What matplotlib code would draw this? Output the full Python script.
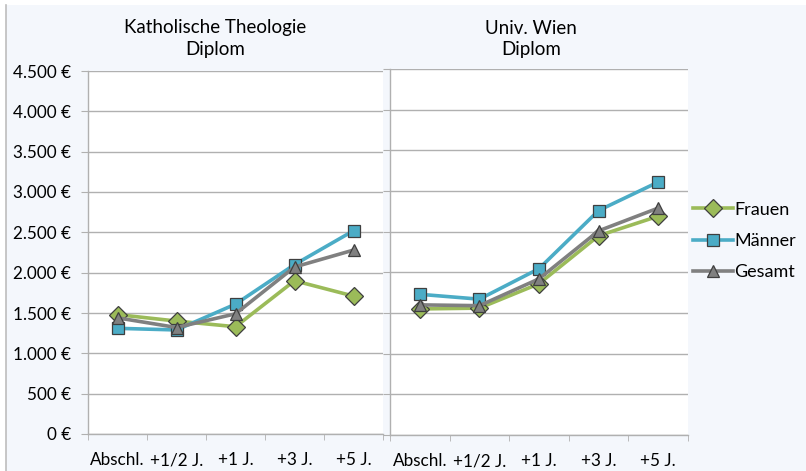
import matplotlib.pyplot as plt
from matplotlib.lines import Line2D
from matplotlib.patches import Rectangle
from matplotlib.ticker import FuncFormatter, FixedLocator

plt.rcParams['font.family'] = ['Lato', 'DejaVu Sans']

categories = ["Abschl.", "+1/2 J.", "+1 J.", "+3 J.", "+5 J."]
series_names = ["Frauen", "Männer", "Gesamt"]

# Katholische Theologie - Diplom
theo_frauen = [1480, 1400, 1330, 1900, 1710]
theo_maenner = [1310, 1290, 1610, 2100, 2520]
theo_gesamt = [1440, 1320, 1490, 2070, 2280]

# Univ. Wien - Diplom
wien_frauen = [1550, 1560, 1860, 2450, 2690]
wien_maenner = [1730, 1670, 2045, 2760, 3110]
wien_gesamt = [1600, 1590, 1920, 2510, 2790]

title_lines = [("Katholische Theologie", "Diplom"), ("Univ. Wien", "Diplom")]

colors = ["#9BBB59", "#4BACC6", "#808080"]
markers = ["D", "s", "^"]
msizes = [9, 9, 9]
EDGE = "#3F3F3F"
BG = "#F4F7FC"
GRID = "#B0B0B0"

W, H = 806, 471
fig = plt.figure(figsize=(W / 100, H / 100), dpi=100, facecolor="white")
fig.patches.append(Rectangle((6 / W, 0), 1, 1 - 5 / H, transform=fig.transFigure,
                             facecolor=BG, edgecolor="none", zorder=-5))
fig.lines.append(Line2D([6 / W, 6 / W], [0, 1 - 5 / H], transform=fig.transFigure,
                        color="#BDBDBD", lw=1.2))


def euro(v, pos):
    return "{:,.0f} €".format(v).replace(",", ".")


def draw_panel(rect, data, show_labels):
    ax = fig.add_axes(rect)
    ax.set_facecolor("white")
    x = range(len(categories))
    for vals, c, m, ms in zip(data, colors, markers, msizes):
        ax.plot(x, vals, color=c, lw=2.6, marker=m, markersize=ms,
                markerfacecolor=c, markeredgecolor=EDGE, markeredgewidth=0.9,
                zorder=3, clip_on=False)
    ax.set_xlim(-0.5, len(categories) - 0.5)
    ax.set_ylim(0, 4500)
    ax.set_yticks(range(0, 4501, 500))
    ax.yaxis.set_major_formatter(FuncFormatter(euro))
    ax.grid(axis="y", color=GRID, lw=1.0, zorder=0)
    ax.set_axisbelow(True)
    ax.set_xticks(list(x))
    ax.set_xticklabels(categories)
    ax.xaxis.set_minor_locator(FixedLocator([i - 0.5 for i in range(len(categories) + 1)]))
    ax.tick_params(axis="x", which="major", length=0, pad=13, labelsize=12.3, colors="black")
    ax.tick_params(axis="x", which="minor", length=4.5, color=GRID, direction="out")
    ax.tick_params(axis="y", length=5, color=GRID, labelsize=12.3, pad=7,
                   labelleft=show_labels)
    for s in ["top", "right"]:
        ax.spines[s].set_visible(False)
    for s in ["left", "bottom"]:
        ax.spines[s].set_color(GRID)
        ax.spines[s].set_linewidth(1.0)
    return ax


ax1 = draw_panel([88 / W, 37 / H, 295 / W, 363 / H],
                 [theo_frauen, theo_maenner, theo_gesamt], True)
ax2 = draw_panel([390 / W, 36 / H, 298 / W, 366 / H],
                 [wien_frauen, wien_maenner, wien_gesamt], False)

for (l1, l2), cx in zip(title_lines, [215, 531]):
    fig.text(cx / W, 1 - 28 / H, l1, ha="center", va="center", fontsize=13.5)
    fig.text(cx / W, 1 - 50 / H, l2, ha="center", va="center", fontsize=13.5)

handles = [Line2D([], [], color=c, lw=2.6, marker=m, markersize=ms,
                  markerfacecolor=c, markeredgecolor=EDGE, markeredgewidth=0.9)
           for c, m, ms in zip(colors, markers, msizes)]
fig.legend(handles, series_names, loc="center left",
           bbox_to_anchor=(693 / W, 1 - 241 / H), frameon=False, fontsize=13,
           handlelength=2.2, handletextpad=0.1, labelspacing=0.85, borderpad=0,
           borderaxespad=0)

fig.savefig("out.png", dpi=100, facecolor=fig.get_facecolor())
